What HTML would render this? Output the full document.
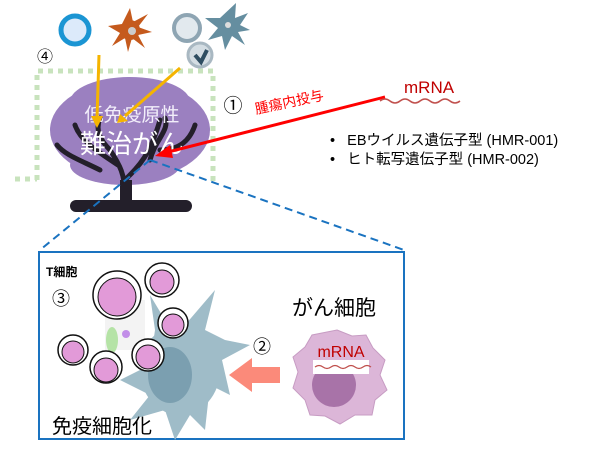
<!DOCTYPE html><html><head><meta charset="utf-8"><style>
body{margin:0;background:#fff;width:606px;height:450px;overflow:hidden;font-family:"Liberation Sans","Noto Sans CJK JP",sans-serif}
svg{display:block}
</style></head><body>
<svg width="606" height="450" viewBox="0 0 606 450" font-family="Liberation Sans, Noto Sans CJK JP, sans-serif">
<path d="M37,180 V71 H213 V185" fill="none" stroke="#c8e3bd" stroke-width="5" stroke-dasharray="5,5"/>
<path d="M15,179 H37" fill="none" stroke="#c8e3bd" stroke-width="5" stroke-dasharray="5,5"/>
<g fill="#9b80c0">
<ellipse cx="130" cy="130" rx="80" ry="50"/>
<ellipse cx="130" cy="102" rx="60" ry="25"/>
<ellipse cx="125" cy="165" rx="55" ry="20"/>
</g>
<g stroke="#231f2a" stroke-width="5" fill="none" stroke-linecap="round">
<path d="M125,195 C125,175 120,165 110,150 M125,180 C140,165 150,155 160,120 M118,165 C95,150 80,140 75,125 M110,150 C100,140 95,130 100,118 M160,150 C180,150 190,140 195,125 M100,170 C80,160 65,155 57,145 M150,160 C155,140 170,130 165,118"/>
</g>
<rect x="120" y="180" width="12" height="22" fill="#231f2a"/>
<rect x="70" y="200" width="122" height="12" rx="6" fill="#231f2a"/>
<text x="132" y="121" font-size="19" fill="#f2eefa" text-anchor="middle">低免疫原性</text>
<text x="132" y="153" font-size="26" fill="#fff" text-anchor="middle">難治がん</text>
<circle cx="75" cy="30" r="14" fill="#dceafa" stroke="#1b95d3" stroke-width="5"/>
<g fill="#c55a1d"><circle cx="130" cy="30" r="10"/><path d="M130,8 L133,22 L148,14 L138,27 L152,32 L138,35 L145,48 L132,38 L128,52 L125,38 L112,46 L120,33 L108,26 L122,24 Z"/></g>
<circle cx="132" cy="31" r="4" fill="#ccc"/>
<circle cx="187" cy="28" r="13" fill="#e2e9ee" stroke="#8ea5b3" stroke-width="4"/>
<circle cx="200" cy="55" r="12" fill="#d4dde3" stroke="#a9b8c2" stroke-width="3"/>
<path d="M195,55 L201,62 L207,50" stroke="#2f4d61" stroke-width="4" fill="none"/>
<g fill="#658ea0"><circle cx="228" cy="25" r="10"/><path d="M236,3 L235,18 L248,13 L240,25 L250,30 L238,32 L245,45 L232,36 L225,50 L222,36 L208,40 L218,28 L205,18 L220,18 Z"/></g>
<circle cx="228" cy="25" r="3" fill="#ddd"/>
<text x="45" y="62" font-size="16" fill="#000" text-anchor="middle">④</text>
<g stroke="#f5b400" stroke-width="3" fill="#f5b400">
<line x1="99" y1="55" x2="97" y2="118"/><path d="M91,116 L97,128 L103,116Z" stroke="none"/>
<line x1="180" y1="68" x2="125" y2="116"/><path d="M120,114 L117,123 L128,121Z" stroke="none"/>
</g>
<g stroke="#1a73c0" stroke-width="2" stroke-dasharray="8,5" fill="none">
<line x1="150" y1="160" x2="40" y2="250"/>
<line x1="150" y1="160" x2="404" y2="250"/>
</g>
<line x1="385" y1="97" x2="168" y2="152" stroke="#ff0000" stroke-width="3"/>
<path d="M155,156 L170,145 L173,158Z" fill="#ff0000"/>
<text x="233" y="112" font-size="19" fill="#000" text-anchor="middle">①</text>
<text x="256" y="114" font-size="14" fill="#ff0000" transform="rotate(-12 256 114)">腫瘍内投与</text>
<text x="404" y="93" font-size="17" fill="#c00000">mRNA</text>
<path d="M380,101 q5,-4 10,0 t10,0 t10,0 t10,0 t10,0 t10,0 t10,0 t10,0" stroke="#c0504d" fill="none" stroke-width="1.5"/>
<text x="330" y="145" font-size="14.5" fill="#000">•&#160;&#160;&#160;EBウイルス遺伝子型 (HMR-001)</text>
<text x="330" y="164" font-size="14.5" fill="#000">•&#160;&#160;&#160;ヒト転写遺伝子型 (HMR-002)</text>
<rect x="39" y="252" width="365" height="187" fill="none" stroke="#1a73c0" stroke-width="2"/>
<text x="46" y="276" font-size="12" font-weight="bold">T細胞</text>
<text x="61" y="305" font-size="18" text-anchor="middle">③</text>
<g fill="#9fbcc8">
<ellipse cx="180" cy="370" rx="40" ry="45"/>
<path d="M155,330 L150,295 L165,320 L185,325 L215,290 L205,330 L225,340 L250,345 L222,360 L230,395 L210,385 L205,430 L190,415 L175,440 L165,410 L130,420 L150,395 L120,380 L150,365 Z"/>
</g>
<ellipse cx="170" cy="375" rx="22" ry="28" fill="#7b9fb0"/>
<rect x="105" y="300" width="40" height="50" fill="#eee" opacity="0.7"/>
<ellipse cx="112" cy="340" rx="6" ry="13" fill="#b5e3a6"/>
<circle cx="126" cy="334" r="4" fill="#c28ee8"/>
<g fill="#fff" stroke="#111" stroke-width="1.5">
<circle cx="117" cy="295" r="24"/><circle cx="162" cy="280" r="17"/><circle cx="173" cy="323" r="15"/>
<circle cx="73" cy="350" r="15"/><circle cx="106" cy="367" r="16"/><circle cx="148" cy="355" r="16"/>
</g>
<g fill="#e29ad8" stroke="#111" stroke-width="1">
<circle cx="117" cy="297" r="19"/><circle cx="162" cy="282" r="12"/><circle cx="173" cy="325" r="11"/>
<circle cx="73" cy="352" r="11"/><circle cx="106" cy="370" r="12"/><circle cx="148" cy="357" r="12"/>
</g>
<text x="52" y="433" font-size="20">免疫細胞化</text>
<text x="292" y="315" font-size="21">がん細胞</text>
<text x="262" y="353" font-size="18" text-anchor="middle">②</text>
<path d="M280,367 H252 V358 L229,375 L252,392 V383 H280Z" fill="#fb8a7a"/>
<path d="M337,330 L352,336 L366,335 L373,348 L385,360 L380,375 L387,390 L375,400 L372,415 L355,415 L340,424 L325,416 L310,415 L305,400 L293,388 L298,372 L293,357 L305,347 L312,335 Z" fill="#dcb6d8" stroke="#c79cc3"/>
<ellipse cx="334" cy="385" rx="22" ry="22" fill="#a873a8"/>
<rect x="313" y="360" width="56" height="14" fill="#fff"/>
<text x="341" y="357" font-size="16" fill="#c00000" text-anchor="middle">mRNA</text>
<path d="M315,367 q4,-3 8,0 t8,0 t8,0 t8,0 t8,0 t8,0 t8,0" stroke="#c0504d" fill="none" stroke-width="1.2"/>
</svg>
</body></html>
